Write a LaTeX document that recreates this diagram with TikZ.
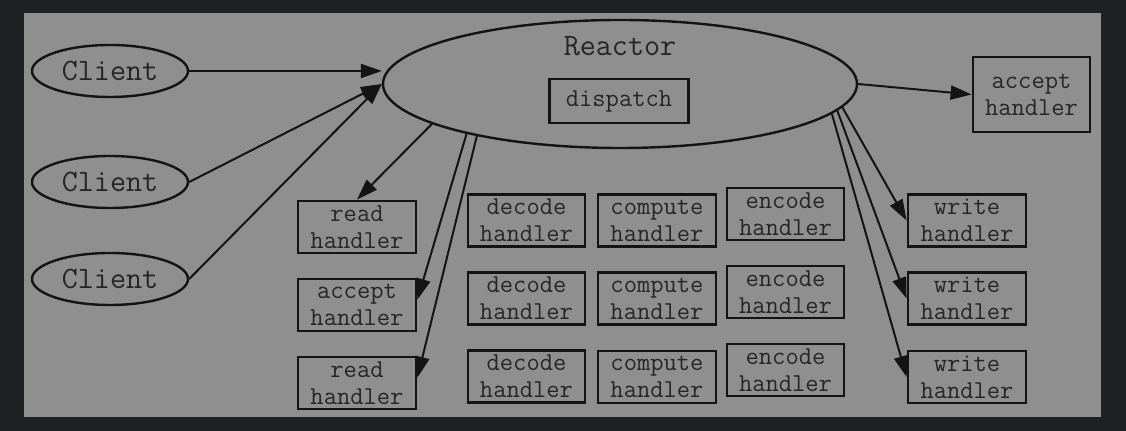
\documentclass[tikz,border=0pt]{standalone}
\usepackage{fontspec}
\usetikzlibrary{arrows.meta,shapes.geometric}
\definecolor{pagebg}{HTML}{1F2023}
\definecolor{panel}{HTML}{8F8F8F}
\definecolor{ink}{HTML}{141414}
\definecolor{txt}{HTML}{262626}

\begin{document}
\begin{tikzpicture}[
  x=0.5pt, y=-0.5pt,
  el/.style={draw=ink, ellipse, line width=1.2pt, inner sep=0pt, text=txt,
             font=\ttfamily\fontsize{15.6}{18}\selectfont},
  cl/.style={el, minimum width=78pt, minimum height=26pt},
  hb/.style={draw=ink, line width=1.4pt, minimum width=59pt, minimum height=26pt,
             inner sep=1pt, align=center, text=txt,
             font=\ttfamily\fontsize{12.9}{13.5}\selectfont},
  arr/.style={-{Triangle[length=10.5pt,width=7pt]}, line width=1pt, draw=ink}
]
\fill[pagebg] (0,0) rectangle (1126,431);
\fill[panel] (24,13) rectangle (1101,417);

% clients
\node[cl] (c1) at (110,71) {Client};
\node[cl] (c2) at (110,182) {Client};
\node[cl] (c3) at (110,279) {Client};

% reactor with its dispatch box
\node[el, minimum width=237pt, minimum height=64pt] (r) at (620,84) {};
\node[text=txt, font=\ttfamily\fontsize{15.6}{18}\selectfont] (rt) at (620,46) {Reactor};
\node[hb, minimum width=69.5pt, minimum height=22pt] (dp) at (619,101) {dispatch};

\node[hb, minimum width=58.5pt, minimum height=37.5pt] (ar) at (1031.5,94.5) {accept\\handler};

% left column
\node[hb] (rd1) at (357,227) {read\\handler};
\node[hb] (ac) at (357,305) {accept\\handler};
\node[hb] (rd2) at (357,383) {read\\handler};

% worker grid
\node[hb, minimum width=58.5pt] (dc1) at (526.5,220.5) {decode\\handler};
\node[hb, minimum width=58.5pt] (dc2) at (526.5,298.5) {decode\\handler};
\node[hb, minimum width=58.5pt] (dc3) at (526.5,376.5) {decode\\handler};
\node[hb] (cp1) at (657,220.5) {compute\\handler};
\node[hb] (cp2) at (657,298.5) {compute\\handler};
\node[hb] (cp3) at (657,377) {compute\\handler};
\node[hb, minimum width=58.5pt] (ec1) at (785.5,214) {encode\\handler};
\node[hb, minimum width=58.5pt] (ec2) at (785.5,292) {encode\\handler};
\node[hb, minimum width=58.5pt] (ec3) at (785.5,370) {encode\\handler};

% right column
\node[hb] (wr1) at (967,220.5) {write\\handler};
\node[hb] (wr2) at (967,298.5) {write\\handler};
\node[hb] (wr3) at (967,377) {write\\handler};

\draw[arr] (c1.east) -- (r.west |- c1.east);
\draw[arr] (c2.east) -- (r.west);
\draw[arr] (c3.east) -- (r.west);
\draw[arr] (r.192) -- (rd1.north);
\draw[arr] (r.198) -- (ac.5);
\draw[arr] (r.200) -- (rd2.5);
\draw[arr] (r.east) -- (ar.west);
\draw[arr] (r.354) -- (wr1.west);
\draw[arr] (r.353) -- (wr2.west);
\draw[arr] (r.352) -- (wr3.west);
\end{tikzpicture}
\end{document}
